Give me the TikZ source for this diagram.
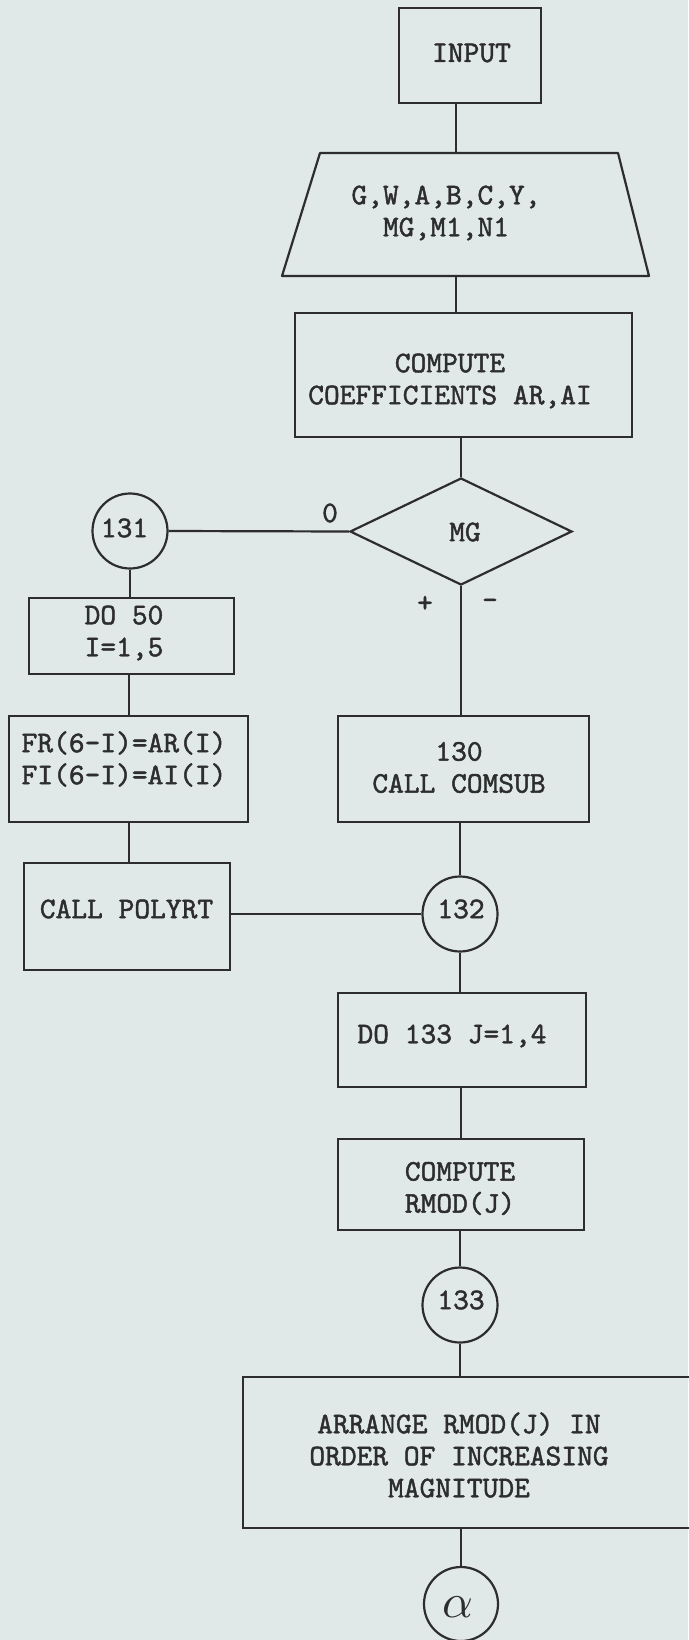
\documentclass[tikz,border=0pt]{standalone}
\usepackage{graphicx}
\usepackage{fontspec}
\newfontfamily\twfont{lmmono10-regular.otf}[FakeBold=1.5]
\usetikzlibrary{shapes.geometric}
\definecolor{bg}{RGB}{224,232,232}
\definecolor{ink}{RGB}{45,45,45}
\begin{document}
\begin{tikzpicture}[x=1pt,y=1pt,
  every node/.style={font=\twfont\fontsize{30}{32}\selectfont, text=ink},
  box/.style={draw=ink, line width=2.2pt, rectangle, inner sep=0pt},
  conn/.style={draw=ink, line width=2.2pt, circle, inner sep=0pt, minimum size=75pt},
  txt/.style={align=center, inner sep=0pt},
  link/.style={draw=ink, line width=2.2pt}]
\useasboundingbox (0,0) rectangle (688,-1640);
\fill[bg] (0,0) rectangle (688,-1640);

% shapes
\node[box, minimum width=142pt, minimum height=95pt] (input) at (470,-55.5) {};
\node[rectangle, inner sep=0pt, minimum width=367pt, minimum height=123pt] (trap) at (465.5,-214.5) {};
\coordinate (trapbl) at (282,-276);
\coordinate (traptl) at (320,-153);
\coordinate (traptr) at (618,-153);
\coordinate (trapbr) at (649,-276);
\draw[link, line join=round] (trapbl) -- (traptl) -- (traptr) -- (trapbr) -- cycle;
\node[box, minimum width=337pt, minimum height=124pt] (comp) at (463.5,-375) {};
\node[draw=ink, line width=2.2pt, diamond, minimum width=222pt, minimum height=107pt, inner sep=0pt] (mg) at (461,-531.5) {\phantom{X}};
\node[conn] (c131) at (130,-531) {};
\node[box, minimum width=205pt, minimum height=76pt] (do50) at (131.5,-636) {};
\node[box, minimum width=239pt, minimum height=106pt] (fr) at (128.5,-769) {};
\node[box, minimum width=206pt, minimum height=107pt] (polyrt) at (127,-916.5) {};
\node[box, minimum width=251pt, minimum height=106pt] (c130) at (463.5,-769) {};
\node[conn] (c132) at (460,-914) {};
\node[box, minimum width=248pt, minimum height=94pt] (do133) at (462,-1040) {};
\node[box, minimum width=246pt, minimum height=91pt] (rmod) at (461,-1184.5) {};
\node[conn] (c133) at (460,-1305) {};
\node[box, minimum width=457pt, minimum height=151pt] (arr) at (471.5,-1452.5) {};
\node[conn, minimum size=74pt] (alpha) at (461,-1604) {};

% texts
\node[txt] (tinput) at (471.5,-53) {INPUT};
\node[txt] (ttrap) at (446,-213) {G,W,A,B,C,Y,\\MG,M1,N1};
\node[txt] (tcomp) at (450,-381) {COMPUTE\\COEFFICIENTS AR,AI};
\node[txt] (tmg) at (465,-532) {MG};
\node[txt] (t131) at (124.5,-528) {131};
\node[txt] (tdo50) at (124,-633) {DO 50\\I=1,5};
\node[txt] (tfr) at (124,-759) {FR(6-I)=AR(I)\\FI(6-I)=AI(I)};
\node[txt] (tpoly) at (126.5,-909) {CALL POLYRT};
\node[txt] (t130) at (459,-767.5) {130\\CALL COMSUB};
\node[txt] (t132) at (461,-909) {132};
\node[txt] (tdo133) at (452,-1036) {DO 133 J=1,4};
\node[txt] (trmod) at (460,-1188.5) {COMPUTE\\RMOD(J)};
\node[txt] (t133) at (461,-1300) {133};
\node[txt] (tarr) at (459,-1455) {ARRANGE RMOD(J) IN\\ORDER OF INCREASING\\MAGNITUDE};
\node[txt] (talpha) at (457.5,-1607) {\normalsize\scalebox{4.8}{$\alpha$}};
\node[txt] (lzero) at (330,-513) {0};
\node[txt] (lplus) at (425,-604) {+};
\node[txt] (lminus) at (490,-604) {-};

% spines
\coordinate (sp1) at (456,0);
\coordinate (spL) at (129,0);
\coordinate (spR) at (461,0);

% connectors
\draw[link] (input.south -| sp1) -- (trap.north -| sp1);
\draw[link] (trap.south -| sp1) -- (comp.north -| sp1);
\draw[link] (comp.south -| mg.north) -- (mg.north);
\draw[link] (mg.west) -- (c131.east);
\draw[link] (c131.south) -- (do50.north -| c131.south);
\draw[link] (do50.south -| spL) -- (fr.north -| spL);
\draw[link] (fr.south -| spL) -- (polyrt.north -| spL);
\draw[link] (polyrt.east |- c132.west) -- (c132.west);
\draw[link] (mg.south) -- (c130.north -| mg.south);
\draw[link] (c130.south -| c132.north) -- (c132.north);
\draw[link] (c132.south) -- (do133.north -| c132.south);
\draw[link] (do133.south -| spR) -- (rmod.north -| spR);
\draw[link] (rmod.south -| c133.north) -- (c133.north);
\draw[link] (c133.south) -- (arr.north -| c133.south);
\draw[link] (arr.south -| alpha.north) -- (alpha.north);
\end{tikzpicture}
\end{document}
